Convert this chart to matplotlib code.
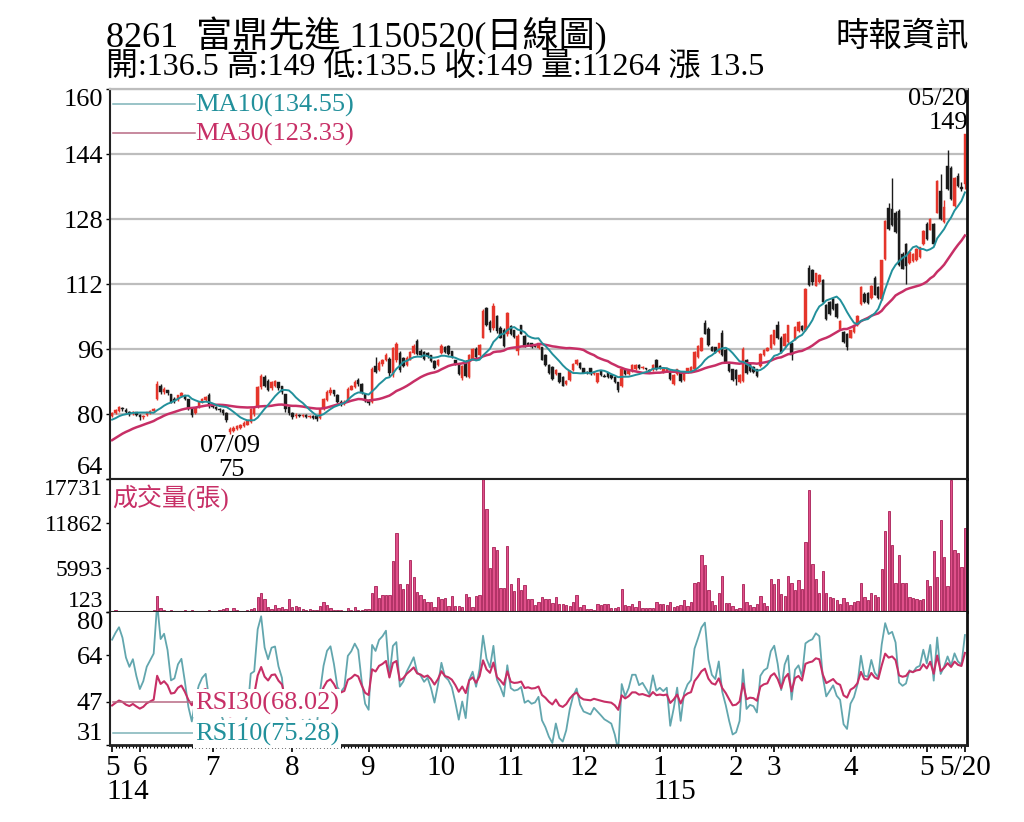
import numpy as np
import pandas as pd
import matplotlib
matplotlib.use("Agg")
import matplotlib.pyplot as plt
from matplotlib.lines import Line2D

W, H = 1024, 822
plt.rcParams['font.family'] = ['Liberation Serif', 'Noto Sans CJK TC', 'DejaVu Sans']

# closes before the visible window (needed for MA30 / RSI warm-up)
PRIOR_CLOSE = [
    86.0, 85.2, 84.6, 83.0, 81.5, 80.2, 78.0, 72.5, 66.0, 63.5,
    61.8, 64.5, 66.0, 65.2, 67.4, 68.8, 68.0, 69.6, 70.4, 69.8,
    71.2, 72.0, 71.4, 72.8, 73.6, 73.0, 74.4, 75.2, 74.6, 76.0,
    76.8, 77.4, 76.8, 78.0, 78.6, 78.2, 79.0, 79.4, 78.8, 79.6,
]

OPEN = [
    79.5, 80.3, 80.8, 81.6, 81.0, 80.6, 80.2, 80.4, 79.8, 79.2,
    79.8, 80.2, 80.8, 83.8, 87.0, 85.4, 85.8, 84.8, 83.8, 83.4,
    84.4, 84.6, 83.6, 81.4, 80.2, 81.8, 83.0, 83.4, 84.6, 82.2,
    81.8, 81.2, 81.0, 80.2, 75.6, 75.8, 76.2, 76.6, 77.0, 77.4,
    78.0, 80.0, 81.6, 86.6, 89.2, 88.2, 86.4, 86.8, 87.8, 86.8,
    84.8, 81.8, 80.2, 79.4, 79.8, 79.4, 79.8, 79.2, 79.6, 79.4,
    79.0, 81.2, 83.4, 85.2, 85.8, 84.6, 83.0, 82.6, 83.4, 86.0,
    86.6, 88.4, 87.4, 85.0, 83.4, 83.0, 91.8, 90.8, 92.2, 93.2,
    93.6, 89.6, 93.4, 95.0, 93.8, 92.0, 93.4, 95.0, 98.0, 95.6,
    95.2, 95.0, 94.4, 93.0, 92.0, 95.0, 96.6, 96.8, 95.4, 93.2,
    92.2, 88.8, 93.0, 89.2, 93.6, 96.0, 94.6, 98.8, 106.0, 102.6,
    101.2, 104.0, 101.2, 100.6, 99.6, 101.6, 100.6, 95.4, 101.8, 99.2,
    97.4, 97.4, 96.8, 96.2, 96.4, 94.6, 92.0, 91.6, 89.8, 90.0,
    89.2, 87.4, 88.4, 90.8, 92.2, 92.6, 91.2, 90.2, 91.2, 89.8,
    87.8, 90.6, 89.4, 90.0, 89.6, 89.2, 87.8, 86.8, 91.0, 89.8,
    90.6, 91.0, 92.0, 91.4, 91.2, 90.8, 90.8, 93.2, 91.8, 90.4,
    90.6, 90.6, 87.4, 89.8, 90.4, 88.4, 90.2, 90.6, 91.0, 94.0,
    95.6, 102.4, 101.0, 96.6, 96.4, 95.2, 100.0, 95.8, 92.4, 91.0,
    90.8, 87.8, 88.2, 93.4, 92.4, 91.6, 91.0, 91.8, 94.4, 95.6,
    96.2, 97.2, 101.8, 98.8, 96.8, 97.6, 97.4, 98.4, 100.4, 101.6,
    100.6, 116.0, 115.4, 111.6, 112.4, 113.0, 106.8, 107.6, 108.4, 107.0,
    100.8, 100.2, 99.8, 98.8, 100.2, 101.8, 107.0, 109.6, 109.8, 108.6,
    113.6, 111.2, 108.2, 118.2, 130.8, 130.4, 129.6, 130.0, 119.4, 121.8,
    117.2, 117.6, 117.8, 118.6, 121.8, 126.8, 125.4, 126.8, 129.6, 135.0,
    127.2, 141.0, 140.6, 131.2, 138.6, 136.0, 136.5,
]

HIGH = [
    80.6, 81.3, 82.0, 81.8, 81.4, 80.8, 80.8, 80.6, 80.0, 79.8,
    80.6, 81.0, 81.6, 88.2, 87.4, 86.6, 86.0, 85.0, 84.2, 84.8,
    85.4, 84.8, 83.8, 81.6, 81.8, 83.2, 84.0, 84.4, 85.2, 82.8,
    82.0, 81.6, 81.2, 80.4, 76.8, 77.0, 77.2, 77.6, 78.2, 78.6,
    81.6, 81.6, 87.0, 89.8, 89.6, 88.6, 88.2, 88.4, 88.0, 87.0,
    85.0, 82.0, 80.6, 80.2, 80.0, 80.0, 80.0, 79.8, 79.8, 79.6,
    81.4, 84.0, 85.8, 86.6, 86.0, 85.0, 83.4, 83.4, 86.6, 87.2,
    88.4, 88.8, 87.6, 85.2, 83.6, 91.6, 94.0, 93.0, 93.6, 95.0,
    94.0, 96.6, 97.8, 95.4, 94.0, 94.2, 95.6, 97.2, 98.4, 96.0,
    95.6, 95.2, 94.6, 93.2, 93.6, 97.2, 96.8, 97.0, 95.6, 93.4,
    92.4, 92.0, 93.2, 94.8, 96.2, 96.4, 97.2, 105.8, 106.4, 103.2,
    107.4, 104.4, 101.6, 101.2, 105.2, 101.8, 100.8, 99.6, 102.0, 99.4,
    97.8, 97.6, 97.0, 97.6, 96.6, 94.8, 92.4, 91.8, 91.0, 90.2,
    89.4, 88.4, 90.8, 92.6, 93.6, 92.8, 91.4, 90.6, 91.4, 90.6,
    90.2, 90.8, 89.8, 90.2, 89.8, 89.4, 88.0, 91.4, 91.2, 90.8,
    92.2, 92.2, 92.2, 91.8, 91.4, 91.0, 92.2, 93.6, 92.0, 91.2,
    91.4, 90.8, 89.8, 91.2, 90.6, 90.6, 91.4, 91.8, 95.4, 97.0,
    99.0, 103.2, 101.4, 96.8, 96.6, 97.6, 100.8, 96.2, 92.6, 91.2,
    91.0, 89.8, 96.4, 93.6, 92.6, 91.8, 91.2, 95.0, 96.0, 96.4,
    99.6, 100.8, 102.8, 99.2, 100.0, 102.0, 97.6, 101.6, 102.8, 101.8,
    111.0, 116.6, 115.6, 114.8, 114.4, 113.2, 107.0, 107.8, 108.6, 107.4,
    103.2, 100.4, 100.0, 100.8, 102.0, 104.4, 111.4, 110.0, 110.0, 111.8,
    114.0, 111.4, 118.0, 127.8, 132.0, 138.0, 130.0, 130.4, 119.8, 122.2,
    120.0, 119.6, 120.8, 121.2, 125.2, 127.2, 128.2, 127.0, 137.6, 139.0,
    132.8, 145.0, 141.0, 138.4, 139.4, 137.0, 149.0,
]

LOW = [
    79.2, 80.0, 80.6, 80.8, 80.2, 79.6, 79.8, 79.4, 78.6, 78.8,
    79.6, 80.0, 80.4, 83.4, 85.0, 85.0, 84.8, 82.6, 82.8, 83.2,
    84.2, 83.4, 81.0, 79.2, 80.0, 81.6, 82.8, 83.2, 81.6, 81.4,
    81.0, 80.6, 79.8, 78.0, 75.0, 75.6, 76.0, 76.4, 76.8, 77.2,
    77.8, 79.6, 81.4, 86.2, 86.6, 85.6, 86.0, 86.6, 86.0, 85.0,
    80.6, 79.8, 78.8, 79.0, 79.2, 79.2, 79.0, 79.0, 78.8, 78.4,
    78.8, 81.0, 83.2, 84.8, 84.4, 82.6, 82.0, 82.2, 83.2, 85.8,
    86.4, 87.0, 85.0, 83.0, 82.2, 82.8, 90.0, 90.6, 91.8, 93.0,
    89.4, 89.0, 92.8, 90.4, 91.6, 91.8, 93.2, 94.8, 94.6, 94.0,
    93.4, 93.8, 92.8, 91.0, 91.8, 94.8, 95.0, 94.6, 93.8, 92.0,
    89.6, 88.4, 89.2, 88.8, 93.4, 93.8, 94.4, 98.6, 101.6, 100.2,
    100.8, 100.0, 98.6, 96.4, 99.2, 99.4, 98.8, 94.6, 99.6, 96.4,
    96.8, 96.2, 96.4, 96.0, 93.2, 91.8, 89.8, 88.4, 89.6, 87.6,
    86.8, 87.2, 88.2, 90.6, 92.0, 91.0, 90.0, 89.8, 89.6, 89.6,
    87.6, 89.4, 89.0, 88.8, 88.6, 87.6, 85.4, 86.6, 89.6, 89.6,
    90.4, 90.8, 91.0, 91.0, 90.8, 90.4, 90.6, 90.8, 91.0, 90.2,
    90.4, 88.4, 87.2, 89.6, 88.0, 88.2, 90.0, 90.4, 90.8, 93.8,
    95.4, 99.6, 96.8, 95.4, 95.0, 95.0, 94.2, 92.6, 90.4, 88.2,
    87.2, 87.6, 88.0, 89.8, 90.4, 90.2, 89.2, 91.6, 94.2, 95.4,
    96.0, 97.0, 98.4, 95.0, 96.6, 97.4, 93.2, 98.2, 100.2, 100.4,
    100.4, 111.4, 111.8, 111.4, 112.2, 107.4, 103.2, 104.4, 105.6, 103.6,
    100.6, 97.4, 95.8, 98.6, 100.0, 101.6, 106.8, 107.4, 107.2, 108.4,
    109.2, 108.4, 108.0, 118.0, 125.4, 126.4, 124.6, 116.4, 115.6, 112.0,
    117.0, 117.4, 117.6, 118.4, 121.6, 122.8, 125.2, 121.6, 129.4, 127.8,
    127.0, 135.2, 132.8, 131.0, 136.0, 135.0, 135.5,
]

CLOSE = [
    80.3, 81.0, 81.6, 81.2, 80.4, 80.0, 80.5, 79.8, 79.2, 79.6,
    80.4, 80.8, 81.2, 87.4, 85.4, 86.2, 85.2, 83.0, 83.2, 84.6,
    85.2, 83.6, 81.4, 79.8, 81.6, 83.0, 83.8, 84.2, 82.0, 81.6,
    81.2, 81.0, 80.2, 78.4, 76.4, 76.6, 77.0, 77.4, 77.8, 78.4,
    81.2, 81.4, 86.6, 89.4, 87.0, 86.0, 87.8, 88.0, 86.4, 85.4,
    81.2, 80.2, 79.2, 79.8, 79.4, 79.8, 79.2, 79.6, 79.0, 78.8,
    81.2, 83.6, 85.4, 86.0, 84.8, 83.0, 82.6, 83.0, 86.2, 86.8,
    87.8, 87.4, 85.2, 83.2, 82.6, 91.0, 90.4, 92.6, 93.4, 94.6,
    90.0, 96.2, 97.2, 90.8, 91.8, 93.8, 95.2, 96.8, 94.8, 94.4,
    93.6, 94.2, 93.0, 91.2, 93.4, 96.8, 95.2, 94.8, 94.0, 92.2,
    89.8, 91.8, 89.4, 94.6, 96.0, 94.0, 97.0, 105.4, 102.0, 100.6,
    106.6, 100.4, 98.8, 96.8, 104.8, 99.6, 99.0, 99.2, 99.8, 96.6,
    97.0, 96.4, 96.6, 97.4, 93.4, 92.0, 90.0, 88.6, 90.8, 87.8,
    87.0, 88.2, 90.6, 92.4, 93.4, 91.2, 90.2, 90.0, 89.8, 90.4,
    90.0, 89.6, 89.2, 89.0, 88.8, 87.8, 86.0, 91.0, 89.8, 90.6,
    92.0, 92.0, 91.2, 91.4, 91.0, 90.6, 92.0, 91.0, 91.2, 91.0,
    91.2, 88.6, 89.6, 91.0, 88.2, 90.4, 91.2, 91.6, 95.2, 96.8,
    98.8, 99.8, 97.0, 95.6, 95.2, 97.4, 94.4, 92.8, 90.6, 88.4,
    88.6, 89.6, 96.0, 90.0, 90.6, 90.4, 89.4, 94.8, 95.8, 96.2,
    99.4, 100.6, 98.6, 95.2, 99.8, 101.8, 94.6, 101.4, 102.6, 100.6,
    110.8, 111.8, 112.4, 114.6, 114.2, 107.6, 103.4, 104.6, 105.8, 103.8,
    103.0, 97.6, 96.4, 100.6, 101.8, 104.2, 111.2, 107.6, 107.4, 111.6,
    109.4, 108.6, 117.8, 127.6, 125.6, 126.6, 124.8, 116.6, 115.8, 116.4,
    119.8, 119.4, 120.6, 121.0, 125.0, 123.0, 128.0, 121.8, 137.4, 128.0,
    131.0, 135.4, 133.0, 138.2, 136.2, 135.5, 149.0,
]

VOLUME = [
    300, 350, 250, 200, 250, 300, 200, 250, 300, 250,
    200, 300, 350, 2300, 700, 400, 250, 450, 250, 300,
    250, 350, 300, 450, 250, 200, 300, 250, 400, 300,
    250, 350, 500, 600, 300, 650, 350, 300, 250, 450,
    500, 700, 2100, 2600, 1800, 800, 500, 1000, 600, 800,
    500, 1800, 800, 900, 850, 500, 450, 500, 400, 450,
    950, 1500, 1100, 600, 400, 350, 450, 300, 700, 350,
    800, 400, 350, 500, 500, 2700, 3600, 2000, 2400, 2400,
    2400, 6900, 10600, 3800, 3200, 3800, 7000, 4800, 2800, 2400,
    1900, 1500, 1400, 800, 2100, 1800, 2000, 900, 2200, 900,
    900, 800, 2500, 2100, 800, 2300, 2350, 17731, 13800, 5900,
    8700, 8300, 3300, 3300, 8900, 3800, 2900, 4600, 3100, 3700,
    1800, 1800, 1100, 1400, 2100, 1900, 1900, 1300, 2100, 1200,
    1200, 1100, 900, 1500, 2400, 800, 1000, 500, 500, 400,
    1200, 1000, 1200, 1200, 700, 600, 800, 3150, 1000, 900,
    1200, 800, 1600, 700, 600, 600, 600, 1400, 1200, 1200,
    1000, 1500, 800, 900, 1100, 1700, 900, 1500, 3900, 4100,
    7700, 6400, 3100, 1600, 1100, 2600, 4900, 1300, 1300, 900,
    500, 700, 3800, 1500, 1000, 800, 1200, 2300, 1300, 900,
    4500, 3800, 4500, 2500, 2300, 4900, 3900, 3000, 4300, 3200,
    9400, 16300, 6500, 4500, 2700, 5500, 2700, 2100, 2000, 1700,
    1200, 2000, 1400, 1000, 1500, 1600, 4000, 2100, 1700, 2700,
    2400, 2100, 5800, 10800, 13500, 9000, 4000, 7700, 4000, 4000,
    2100, 2000, 1800, 1700, 1900, 4300, 3500, 8200, 4700, 12300,
    7400, 3600, 17650, 8350, 7950, 6040, 11264,
]

MONTH_TICKS = [0, 8, 29, 52, 74, 95, 115, 136, 158, 180, 191, 213, 235, 246]
MONTH_LABELS = ['5', '6', '7', '8', '9', '10', '11', '12', '1', '2', '3', '4', '5', '5/20']
YEAR_MARKS = [(0, '114'), (158, '115')]

PRICE_TICKS = [64, 80, 96, 112, 128, 144, 160]
VOL_TICKS = [123, 5993, 11862, 17731]
RSI_TICKS = [31, 47, 64, 80]

TITLE = '8261  富鼎先進 1150520(日線圖)'
SUBTITLE = '開:136.5 高:149 低:135.5 收:149 量:11264 漲 13.5'
SOURCE = '時報資訊'
MA10_LABEL = 'MA10(134.55)'
MA30_LABEL = 'MA30(123.33)'
RSI30_LABEL = 'RSI30(68.02)'
RSI10_LABEL = 'RSI10(75.28)'

RED = '#e5352b'
BLACK = '#1b1b1b'
TEAL = '#22909b'
CRIMSON = '#c72f66'


def wilder_rsi(values, n):
    v = np.asarray(values, dtype=float)
    d = np.diff(v)
    up = np.clip(d, 0, None)
    dn = np.clip(-d, 0, None)
    out = np.full(len(v), np.nan)
    ag, al = up[:n].mean(), dn[:n].mean()
    out[n] = 100 * ag / (ag + al)
    for k in range(n, len(d)):
        ag = (ag * (n - 1) + up[k]) / n
        al = (al * (n - 1) + dn[k]) / n
        out[k + 1] = 100 * ag / (ag + al)
    return out


n_prior = len(PRIOR_CLOSE)
all_close = pd.Series(PRIOR_CLOSE + CLOSE)
ma10 = all_close.rolling(10).mean().to_numpy()[n_prior:]
ma30 = all_close.rolling(30).mean().to_numpy()[n_prior:]
rsi10 = wilder_rsi(all_close, 10)[n_prior:]
rsi30 = wilder_rsi(all_close, 30)[n_prior:]

o = np.array(OPEN)
h = np.array(HIGH)
l = np.array(LOW)
c = np.array(CLOSE)
x = np.arange(len(CLOSE))

fig = plt.figure(figsize=(W / 100, H / 100), dpi=100)


def fx(px):
    return px / W


def fy(py):
    return 1 - py / H


def axes_px(left, top, right, bottom):
    return fig.add_axes([left / W, 1 - bottom / H, (right - left) / W, (bottom - top) / H])


ax_p = axes_px(110, 89, 967, 479)
ax_v = axes_px(110, 479, 967, 612)
ax_r = axes_px(110, 612, 967, 745)
ax_p.set_zorder(2)  # so the low-price label can sit on the panel border

XLIM = (-0.6, 246.6)

# ---- price panel
cols = np.where(c >= o, RED, BLACK)
ax_p.vlines(x, l, h, colors=cols, lw=1.0, zorder=2)
ax_p.bar(x, np.maximum(np.abs(c - o), 0.25), bottom=np.minimum(o, c), width=0.72,
         color=cols, edgecolor=cols, lw=0.3, zorder=2)
ax_p.plot(x, ma30, color=CRIMSON, lw=1.8, zorder=3)
ax_p.plot(x, ma10, color=TEAL, lw=1.4, zorder=3)
ax_p.set_xlim(*XLIM)
ax_p.set_ylim(64, 160)
ax_p.set_xticks([])
ax_p.set_yticks(PRICE_TICKS, [str(t) for t in PRICE_TICKS])
ax_p.grid(axis='y', color='#bdbdbd', lw=1.6)
ax_p.set_axisbelow(True)

# ---- volume panel
ax_v.bar(x, VOLUME, width=0.66, color='#e0508a', edgecolor='#a81e55', lw=0.6)
ax_v.set_xlim(*XLIM)
ax_v.set_ylim(VOL_TICKS[0], VOL_TICKS[-1])
ax_v.set_xticks([])
ax_v.set_yticks(VOL_TICKS, [str(t) for t in VOL_TICKS])

# ---- RSI panel
ax_r.plot(x, rsi10, color='#62a6ae', lw=1.3)
ax_r.plot(x, rsi30, color=CRIMSON, lw=1.5)
ax_r.set_xlim(*XLIM)
ax_r.set_ylim(RSI_TICKS[0], RSI_TICKS[-1])
ax_r.set_yticks(RSI_TICKS, [str(t) for t in RSI_TICKS])
ax_r.set_xticks(MONTH_TICKS, MONTH_LABELS)
ax_r.set_xticks(x, minor=True)
ax_r.tick_params(axis='x', which='major', length=5, width=1.2, labelsize=21, pad=2)
ax_r.tick_params(axis='x', which='minor', length=2.5, width=0.8)
for pos, txt in YEAR_MARKS:
    ax_r.annotate(txt, xy=(pos, 0), xycoords=('data', 'axes fraction'),
                  xytext=(-6, -34), textcoords='offset pixels',
                  ha='left', va='top', fontsize=21)

for ax, ticks, size in ((ax_p, PRICE_TICKS, 19), (ax_v, VOL_TICKS, 17), (ax_r, RSI_TICKS, 19)):
    ax.tick_params(axis='y', length=3, width=1, pad=2, labelsize=size)
    for lab, t in zip(ax.get_yticklabels(), ticks):
        if t == ticks[-1]:
            lab.set_va('top')
        elif t == ticks[0]:
            lab.set_va('bottom')
    for side in ('left', 'bottom'):
        ax.spines[side].set_color('#222222')
        ax.spines[side].set_linewidth(1.5)
    ax.spines['right'].set_color('#111111')
    ax.spines['right'].set_linewidth(2)
    ax.spines['top'].set_visible(False)

ax_p.spines['top'].set_visible(True)
ax_p.spines['top'].set_color('#bdbdbd')
ax_p.spines['top'].set_linewidth(1.6)
ax_r.spines['bottom'].set_linewidth(2)

# ---- header texts
fig.text(fx(106), fy(36), TITLE, fontsize=26, ha='left', va='center')
fig.text(fx(969), fy(37), SOURCE, fontsize=24, ha='right', va='center')
fig.text(fx(106), fy(68), SUBTITLE, fontsize=23, ha='left', va='center')


# ---- legend-like labels inside panels
def legend_entry(y, line_col, text, text_col, box=False):
    fig.add_artist(Line2D([fx(113), fx(195)], [fy(y), fy(y)], transform=fig.transFigure,
                          color=line_col, lw=1.1, zorder=5))
    kw = {}
    if box:
        kw['bbox'] = dict(facecolor='white', edgecolor='none', pad=1.5)
    fig.text(fx(195), fy(y + 1), text, fontsize=19, color=text_col, ha='left', va='center',
             zorder=6, **kw)


legend_entry(104, '#7db3b8', MA10_LABEL, TEAL)
legend_entry(133, '#b86a84', MA30_LABEL, CRIMSON)
legend_entry(702, '#b86a84', RSI30_LABEL, CRIMSON, box=True)
legend_entry(733, '#7db3b8', RSI10_LABEL, TEAL, box=True)

fig.text(fx(112), fy(498), '成交量(張)', fontsize=18, color=CRIMSON, ha='left', va='center')

# ---- high / low markers
last = len(CLOSE) - 1
low_i = int(np.argmin(l))
ax_p.annotate('05/20', xy=(last, 160), xytext=(3, 1), textcoords='offset pixels',
              ha='right', va='top', fontsize=19, annotation_clip=False)
ax_p.annotate(f'{h[last]:g}', xy=(last, 160), xytext=(3, -23), textcoords='offset pixels',
              ha='right', va='top', fontsize=19)
ax_p.annotate('07/09', xy=(low_i, l[low_i]), xytext=(0, -1), textcoords='offset pixels',
              ha='center', va='top', fontsize=19)
ax_p.annotate(f'{l[low_i]:g}', xy=(low_i, l[low_i]), xytext=(1, -25), textcoords='offset pixels',
              ha='center', va='top', fontsize=19, annotation_clip=False)

fig.savefig('out.png', dpi=100, facecolor='white')
